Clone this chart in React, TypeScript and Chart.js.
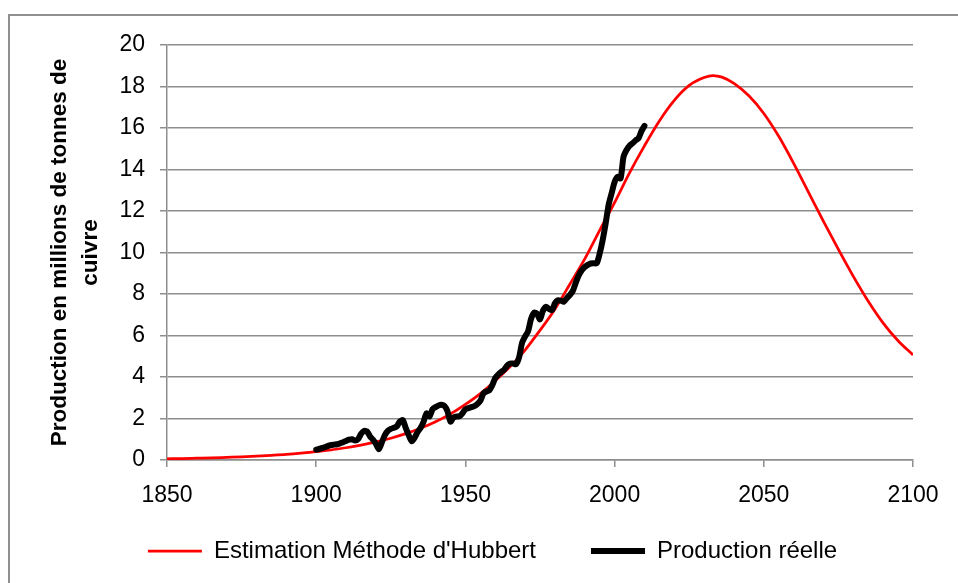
import React, { useEffect, useRef } from "react";
import { Chart, registerables } from "chart.js";

Chart.register(...registerables);

const hubbertYears = [
  1850, 1855, 1860, 1865, 1870, 1875, 1880, 1885, 1890, 1895,
  1900, 1905, 1910, 1915, 1920, 1925, 1930, 1935, 1940, 1945,
  1950, 1955, 1960, 1965, 1970, 1975, 1980, 1985, 1990, 1995,
  2000, 2005, 2010, 2015, 2020, 2025, 2030, 2033, 2036, 2040, 2045,
  2050, 2055, 2060, 2065, 2070, 2075, 2080, 2085, 2090, 2095, 2100,
];
const hubbertValues = [
  0.06, 0.07, 0.085, 0.1, 0.125, 0.15, 0.185, 0.225, 0.27, 0.33,
  0.4, 0.49, 0.59, 0.72, 0.87, 1.05, 1.27, 1.53, 1.84, 2.22,
  2.68, 3.2, 3.82, 4.5, 5.3, 6.25, 7.27, 8.47, 9.69, 11.07,
  12.41, 13.84, 15.14, 16.34, 17.33, 18.05, 18.43, 18.53, 18.45, 18.15, 17.55,
  16.7, 15.6, 14.3, 12.9, 11.5, 10.15, 8.85, 7.65, 6.6, 5.75, 5.06,
];

const productionYears = [
  1900, 1901, 1902, 1903, 1904, 1905, 1906, 1907, 1908, 1909,
  1910, 1911, 1912, 1913, 1914, 1915, 1916, 1917, 1918, 1919,
  1920, 1921, 1922, 1923, 1924, 1925, 1926, 1927, 1928, 1929,
  1930, 1931, 1932, 1933, 1934, 1935, 1936, 1937, 1938, 1939,
  1940, 1941, 1942, 1943, 1944, 1945, 1946, 1947, 1948, 1949,
  1950, 1951, 1952, 1953, 1954, 1955, 1956, 1957, 1958, 1959,
  1960, 1961, 1962, 1963, 1964, 1965, 1966, 1967, 1968, 1969,
  1970, 1971, 1972, 1973, 1974, 1975, 1976, 1977, 1978, 1979,
  1980, 1981, 1982, 1983, 1984, 1985, 1986, 1987, 1988, 1989,
  1990, 1991, 1992, 1993, 1994, 1995, 1996, 1997, 1998, 1999,
  2000, 2001, 2002, 2003, 2004, 2005, 2006, 2007, 2008, 2009, 2010,
];
const productionValues = [
  0.5, 0.53, 0.58, 0.62, 0.68, 0.72, 0.74, 0.76, 0.8, 0.86,
  0.92, 0.98, 1.0, 0.94, 1.0, 1.25, 1.4, 1.38, 1.15, 0.98,
  0.78, 0.52, 0.85, 1.2, 1.4, 1.5, 1.55, 1.62, 1.85, 1.92,
  1.55, 1.2, 0.9, 1.08, 1.35, 1.55, 1.85, 2.25, 2.1, 2.45,
  2.55, 2.63, 2.66, 2.6, 2.35, 1.85, 2.05, 2.1, 2.1, 2.25,
  2.45, 2.5, 2.55, 2.6, 2.7, 2.85, 3.2, 3.3, 3.35, 3.6,
  3.95, 4.12, 4.25, 4.35, 4.55, 4.65, 4.65, 4.62, 4.95, 5.65,
  5.95, 6.2, 6.8, 7.1, 7.05, 6.78, 7.2, 7.38, 7.28, 7.22,
  7.55, 7.7, 7.68, 7.63, 7.8, 7.95, 8.15, 8.55, 8.9, 9.15,
  9.3, 9.4, 9.47, 9.48, 9.48, 9.95, 10.6, 11.4, 12.3, 12.85,
  13.4, 13.65, 13.57, 14.62, 14.94, 15.15, 15.26, 15.4, 15.5, 15.85, 16.1,
];

const xTickValues = [1850, 1900, 1950, 2000, 2050, 2100];
const yTickValues = [0, 2, 4, 6, 8, 10, 12, 14, 16, 18, 20];

const seriesLabels = ["Estimation Méthode d'Hubbert", "Production réelle"];
const yTitle = ["Production en millions de tonnes de", "cuivre"];

const FONT = "'Liberation Sans', Arial, sans-serif";
const GRID = "#8e8e8e";

export default function App() {
  const canvasRef = useRef<HTMLCanvasElement | null>(null);

  useEffect(() => {
    const canvas = canvasRef.current;
    if (!canvas) return;
    Chart.defaults.font.family = FONT;
    const chart = new Chart(canvas, {
      type: "line",
      data: {
        datasets: [
          {
            label: seriesLabels[0],
            data: hubbertYears.map((x, i) => ({ x, y: hubbertValues[i] })),
            borderColor: "#ff0000",
            backgroundColor: "#ff0000",
            borderWidth: 2.75,
            pointRadius: 0,
            cubicInterpolationMode: "monotone",
            fill: false,
            order: 1,
          },
          {
            label: seriesLabels[1],
            data: productionYears.map((x, i) => ({ x, y: productionValues[i] })),
            borderColor: "#000000",
            backgroundColor: "#000000",
            borderWidth: 6,
            pointRadius: 0,
            tension: 0.25,
            borderJoinStyle: "round",
            borderCapStyle: "round",
            fill: false,
            order: 0,
          },
        ],
      },
      options: {
        animation: false,
        responsive: false,
        maintainAspectRatio: false,
        layout: { padding: { top: 45, right: 0, bottom: 10, left: 27 } },
        plugins: {
          tooltip: { enabled: false },
          legend: {
            position: "bottom",
            labels: {
              usePointStyle: true,
              pointStyle: "line",
              pointStyleWidth: 54,
              boxHeight: 24,
              padding: 55,
              color: "#000",
              font: { size: 24, family: FONT },
              sort: (a: any, b: any) => a.datasetIndex - b.datasetIndex,
            },
          },
        },
        scales: {
          x: {
            type: "linear",
            position: "bottom",
            min: 1850,
            max: 2100,
            afterBuildTicks: (s: any) => {
              s.ticks = xTickValues.map((v) => ({ value: v }));
            },
            afterFit: (s: any) => {
              s.height = 24;
            },
            ticks: {
              autoSkip: false,
              maxRotation: 0,
              mirror: true,
              padding: -49,
              color: "#000",
              font: { size: 23, family: FONT },
              callback: (v: any) => String(v),
            },
            grid: {
              drawOnChartArea: false,
              drawTicks: true,
              tickLength: 7,
              tickColor: GRID,
              tickWidth: 1.5,
              lineWidth: 1.5,
              color: GRID,
            },
            border: { display: true, color: GRID, width: 1.5 },
          },
          y: {
            type: "linear",
            position: "left",
            min: 0,
            max: 20,
            afterBuildTicks: (s: any) => {
              s.ticks = yTickValues.map((v) => ({ value: v }));
            },
            afterFit: (s: any) => {
              s.width = 140;
            },
            ticks: {
              padding: 15,
              color: "#000",
              font: { size: 23, family: FONT },
              callback: (v: any) => String(v),
            },
            grid: {
              drawOnChartArea: true,
              drawTicks: true,
              tickLength: 7,
              color: GRID,
              tickColor: GRID,
              lineWidth: 1.5,
              tickWidth: 1.5,
            },
            border: { display: true, color: GRID, width: 1.5 },
            title: {
              display: true,
              text: yTitle,
              color: "#000",
              font: { size: 22.5, weight: "bold", family: FONT, lineHeight: 1.4 },
              padding: { top: 17, bottom: 0 },
            },
          },
          spacer: {
            type: "linear",
            position: "right",
            display: true,
            afterFit: (s: any) => {
              s.width = 45;
            },
            ticks: { display: false },
            grid: { display: false, drawTicks: false },
            border: { display: false },
          },
        },
      },
    } as any);
    return () => chart.destroy();
  }, []);

  return (
    <div
      style={{
        position: "fixed",
        left: 0,
        top: 0,
        width: 958,
        height: 583,
        overflow: "hidden",
        background: "#ffffff",
      }}
    >
      <div
        style={{
          position: "absolute",
          left: 8,
          top: 14,
          width: 1100,
          height: 800,
          border: "2px solid #8f8f8f",
          boxSizing: "border-box",
        }}
      />
      <canvas
        ref={canvasRef}
        width={958}
        height={583}
        style={{ position: "absolute", left: 0, top: 0, width: 958, height: 583 }}
      />
    </div>
  );
}
